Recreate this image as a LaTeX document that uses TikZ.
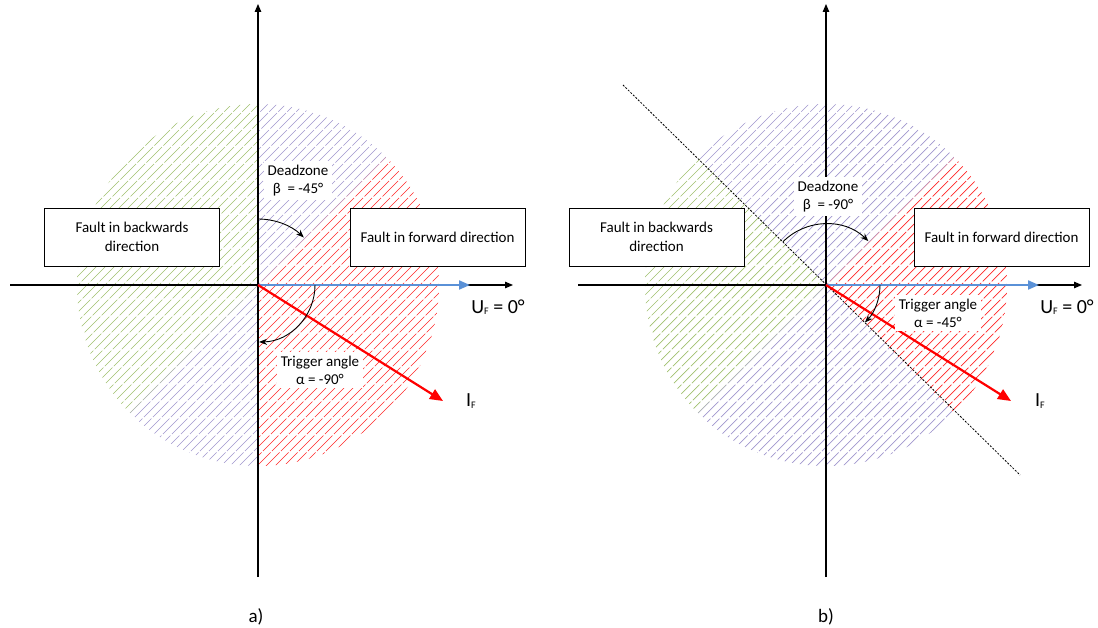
\documentclass[tikz,border=0pt]{standalone}
\usepackage{fontspec}
\setmainfont{Carlito}
\usetikzlibrary{arrows.meta}
\definecolor{hgreen}{RGB}{160,192,110}
\definecolor{hpurple}{RGB}{160,150,205}
\definecolor{hred}{RGB}{255,40,40}
\definecolor{ublue}{RGB}{90,145,215}
\newcommand\HatchSector[4]{%
  \begin{scope}[shift={(#1)}]
    \clip (0,0) -- (#2:181) arc[start angle=#2, end angle=#3, radius=181] -- cycle;
    \foreach \k in {-270,-261,...,270}
      \draw[#4, line width=0.7pt, dash pattern=on 22pt off 2pt] (\k-200,-200) -- (\k+200,200);
  \end{scope}}
\tikzset{
  x=1pt, y=1pt,
  axisline/.style={line width=1.1pt, -{Triangle[length=8pt,width=6.5pt]}},
  uarrow/.style={ublue, line width=2pt, -{Triangle[length=11pt,width=9pt]}},
  iarrow/.style={red, line width=2.2pt, -{Triangle[length=13pt,width=11pt]}},
  anglearc/.style={line width=0.9pt, -{Stealth[length=8pt,width=6pt]}},
  regionbox/.style={draw, line width=0.9pt, fill=white, minimum width=175pt, minimum height=58pt, inner sep=0pt, align=center, font=\fontsize{15}{19}\selectfont},
  anglelbl/.style={fill=white, align=center, inner sep=4pt, font=\fontsize{15}{18}\selectfont},
  biglbl/.style={inner sep=0pt, font=\fontsize{20}{22}\selectfont},
  caplbl/.style={inner sep=0pt, font=\fontsize{19}{21}\selectfont},
  sepline/.style={line width=0.8pt, dash pattern=on 2pt off 1.5pt}
}
\newcommand\sub[1]{\raisebox{-0.15ex}{\fontsize{10}{10}\selectfont #1}}
\begin{document}
\begin{tikzpicture}
\useasboundingbox (0,0) rectangle (1098,627);
% origins
\coordinate (oa) at (258,342);
\coordinate (ob) at (826,342);
% hatched sectors (a)
\HatchSector{oa}{-90}{45}{hred}
\HatchSector{oa}{45}{90}{hpurple}
\HatchSector{oa}{90}{225}{hgreen}
\HatchSector{oa}{225}{270}{hpurple}
% hatched sectors (b)
\HatchSector{ob}{-45}{45}{hred}
\HatchSector{ob}{45}{135}{hpurple}
\HatchSector{ob}{135}{225}{hgreen}
\HatchSector{ob}{225}{315}{hpurple}
% axes (a)
\coordinate (axl) at (10,342);
\coordinate (axr) at (513,342);
\coordinate (ayb) at (258,50);
\coordinate (ayt) at (258,623);
\draw[axisline] (axl) -- (axr);
\draw[axisline] (ayb) -- (ayt);
% axes (b)
\coordinate (bxl) at (578,342);
\coordinate (bxr) at (1082,342);
\coordinate (byb) at (826,50);
\coordinate (byt) at (826,623);
\draw[axisline] (bxl) -- (bxr);
\draw[axisline] (byb) -- (byt);
% separating dashed line (b)
\coordinate (dl1) at (623,542);
\coordinate (dl2) at (1020,152);
\draw[sepline] (dl1) -- (dl2);
% voltage vectors
\coordinate (ua) at (470,342);
\coordinate (ub) at (1039,342);
\draw[uarrow] (oa) -- (ua);
\draw[uarrow] (ob) -- (ub);
% current vectors
\coordinate (ia) at (443,226);
\coordinate (ib) at (1011,226);
\draw[iarrow] (oa) -- (ia);
\draw[iarrow] (ob) -- (ib);
% angle arcs
\draw[anglearc] ([shift={(90:66)}]oa) arc[start angle=90, end angle=46, radius=66];
\draw[anglearc] ([shift={(0:57)}]oa) arc[start angle=0, end angle=-89, radius=57];
\draw[anglearc] ([shift={(135:61)}]ob) arc[start angle=135, end angle=46, radius=61];
\draw[anglearc] ([shift={(0:54)}]ob) arc[start angle=0, end angle=-44, radius=54];
% region boxes
\node[regionbox] (bwa) at (132,390) {Fault in backwards\\direction};
\node[regionbox] (fwa) at (437.5,390) {Fault in forward direction};
\node[regionbox] (bwb) at (656.5,390) {Fault in backwards\\direction};
\node[regionbox] (fwb) at (1001.5,390) {Fault in forward direction};
% angle labels
\node[anglelbl] (dza) at (298,446) {Deadzone\\β~ = -45°};
\node[anglelbl] (tra) at (320,257) {Trigger angle\\α = -90°};
\node[anglelbl] (dzb) at (828,430) {Deadzone\\β~ = -90°};
\node[anglelbl] (trb) at (938,314) {Trigger angle\\α = -45°};
% vector labels
\node[biglbl] (ula) at (498,320) {U\sub{F} = 0°};
\node[biglbl] (ila) at (471,226) {I\sub{F}};
\node[biglbl] (ulb) at (1067,320) {U\sub{F} = 0°};
\node[biglbl] (ilb) at (1040,226) {I\sub{F}};
% captions
\node[caplbl] (capa) at (256,10) {a)};
\node[caplbl] (capb) at (826,10) {b)};
\end{tikzpicture}
\end{document}
